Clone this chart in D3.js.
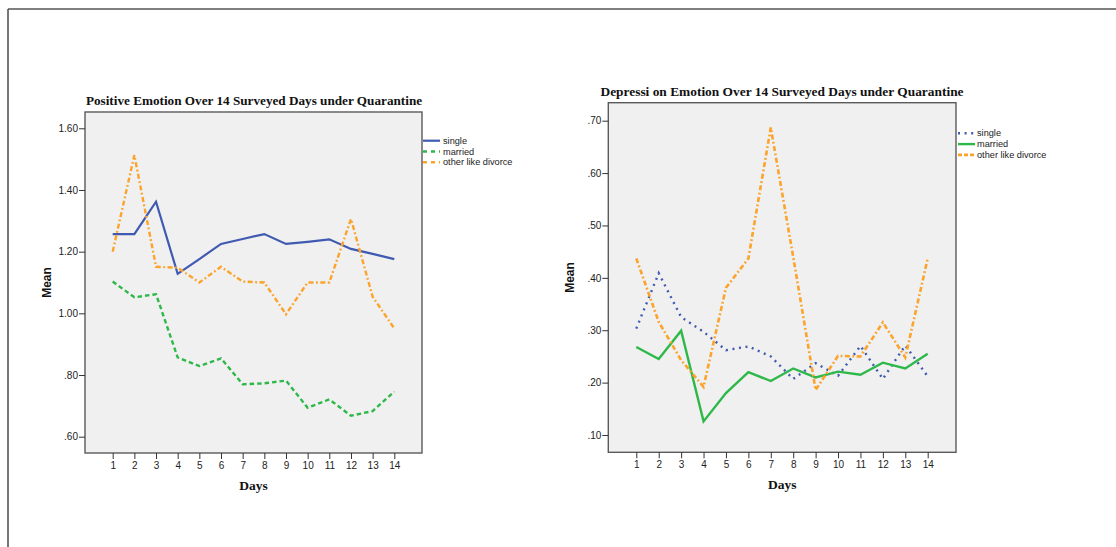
<!DOCTYPE html>
<html><head><meta charset="utf-8">
<script src="https://cdn.jsdelivr.net/npm/d3@7"></script>
<style>
html,body{margin:0;padding:0;background:#fff;}
svg{display:block;}
</style></head>
<body>
<svg id="chart" width="1116" height="547"></svg>
<script>
const days = [1,2,3,4,5,6,7,8,9,10,11,12,13,14];
const seriesNames = ["single","married","other like divorce"];

// Positive emotion
const posSingle  = [1.257,1.257,1.362,1.128,1.176,1.225,1.241,1.257,1.225,1.232,1.240,1.209,1.193,1.176];
const posMarried = [1.103,1.052,1.062,0.857,0.829,0.854,0.770,0.773,0.782,0.694,0.721,0.668,0.683,0.746];
const posOther   = [1.200,1.513,1.151,1.148,1.100,1.151,1.103,1.100,0.997,1.100,1.100,1.306,1.054,0.951];
const posTicks = [0.6,0.8,1.0,1.2,1.4,1.6];

// Depression emotion
const depSingle  = [0.303,0.409,0.325,0.297,0.262,0.269,0.250,0.207,0.237,0.213,0.270,0.207,0.271,0.212];
const depMarried = [0.268,0.245,0.299,0.126,0.180,0.220,0.203,0.227,0.210,0.221,0.215,0.238,0.227,0.255];
const depOther   = [0.437,0.316,0.243,0.192,0.381,0.437,0.687,0.440,0.186,0.251,0.250,0.315,0.248,0.437];
const depTicks = [0.1,0.2,0.3,0.4,0.5,0.6,0.7];

const BLUE = "#3f5ab0", GREEN = "#2fb84a", ORANGE = "#fca32c";
const SOLID = null, DASH = "4.5,3", DASHDOT = "5,2.5,1.8,2.5", DOT = "2,4.6";

const svg = d3.select("#chart");

// outer frame
svg.append("line").attr("x1",8).attr("x2",1116).attr("y1",9).attr("y2",9).attr("stroke","#555").attr("stroke-width",1.6);
svg.append("line").attr("x1",8).attr("x2",8).attr("y1",9).attr("y2",547).attr("stroke","#555").attr("stroke-width",1.6);

function panel(cfg){
  const g = svg.append("g");
  const x = d3.scaleLinear().domain([1,14]).range([cfg.x1, cfg.x14]);
  const y = d3.scaleLinear().domain([cfg.vA, cfg.vB]).range([cfg.yA, cfg.yB]);
  // background
  g.append("rect").attr("x",cfg.left).attr("y",cfg.top).attr("width",cfg.right-cfg.left).attr("height",cfg.bottom-cfg.top)
    .attr("fill","#f0f0f0").attr("stroke","#5a5a5a").attr("stroke-width",1.4);
  // y axis
  const yAxis = d3.axisLeft(y).tickValues(cfg.yticks).tickSize(6).tickPadding(1)
    .tickFormat(d => { const s = d.toFixed(2); return s.startsWith("0") ? s.slice(1) : s; });
  const ya = g.append("g").attr("transform",`translate(${cfg.left},0)`).call(yAxis);
  ya.select(".domain").remove();
  ya.selectAll(".tick line").attr("stroke","#333");
  ya.selectAll("text").attr("font-family","Liberation Sans, Arial, sans-serif").attr("font-size",10).attr("fill","#222");
  // x axis
  const xAxis = d3.axisBottom(x).tickValues(days).tickSize(6).tickPadding(3).tickFormat(d3.format("d"));
  const xa = g.append("g").attr("transform",`translate(0,${cfg.bottom})`).call(xAxis);
  xa.select(".domain").remove();
  xa.selectAll(".tick line").attr("stroke","#333");
  xa.selectAll("text").attr("font-family","Liberation Sans, Arial, sans-serif").attr("font-size",10).attr("fill","#222");
  // lines
  const line = d3.line().x((d,i)=>x(days[i])).y(d=>y(d));
  cfg.series.forEach(s=>{
    g.append("path").datum(s.values).attr("d",line).attr("fill","none")
      .attr("stroke",s.color).attr("stroke-width",s.w)
      .attr("stroke-dasharray",s.dash).attr("stroke-linecap","butt")
      .attr("stroke-linejoin","miter");
  });
  // title
  g.append("text").attr("x",cfg.titleX).attr("y",cfg.top-7).attr("text-anchor","middle")
    .attr("font-family","Liberation Serif, Times New Roman, serif").attr("font-weight","bold").attr("font-size",cfg.titleSize)
    .attr("fill","#111").text(cfg.title);
  // axis titles
  g.append("text").attr("x",(cfg.left+cfg.right)/2).attr("y",cfg.bottom+37).attr("text-anchor","middle")
    .attr("font-family","Liberation Serif, Times New Roman, serif").attr("font-weight","bold").attr("font-size",13.5)
    .attr("fill","#111").text("Days");
  g.append("text").attr("transform",`translate(${cfg.left-34},${(cfg.top+cfg.bottom)/2}) rotate(-90)`).attr("text-anchor","middle")
    .attr("font-family","Liberation Sans, Arial, sans-serif").attr("font-weight","bold").attr("font-size",12)
    .attr("fill","#111").text("Mean");
  // legend
  cfg.series.forEach((s,i)=>{
    const ly = cfg.legY + i*10.8;
    g.append("line").attr("x1",cfg.legX).attr("x2",cfg.legX+17).attr("y1",ly).attr("y2",ly)
      .attr("stroke",s.color).attr("stroke-width",s.w).attr("stroke-dasharray",s.legDash || s.dash);
    g.append("text").attr("x",cfg.legX+cfg.legTx).attr("y",ly+3).attr("font-family","Liberation Sans, Arial, sans-serif")
      .attr("font-size",9.2).attr("fill","#222").text(seriesNames[i]);
  });
}

panel({
  left:85, right:422, top:112, bottom:453,
  x1:112.7, x14:394.3, vA:1.6, vB:0.6, yA:128.3, yB:436.7,
  yticks: posTicks,
  title:"Positive Emotion Over 14 Surveyed Days under Quarantine", titleX:254, titleSize:13.2,
  legX:423, legY:140.7, legTx:20,
  series:[
    {values:posSingle, color:BLUE, w:2.2, dash:SOLID},
    {values:posMarried, color:GREEN, w:2.4, dash:DASH, legDash:"4,4"},
    {values:posOther, color:ORANGE, w:2.4, dash:DASHDOT, legDash:"4,4"}
  ]
});

panel({
  left:608.3, right:956, top:102.7, bottom:452.3,
  x1:636.3, x14:927.7, vA:0.7, vB:0.1, yA:120.7, yB:435,
  yticks: depTicks,
  title:"Depressi on Emotion Over 14 Surveyed Days under Quarantine", titleX:782, titleSize:13.4,
  legX:958, legY:133.3, legTx:19,
  series:[
    {values:depSingle, color:BLUE, w:2.4, dash:DOT},
    {values:depMarried, color:GREEN, w:2.4, dash:SOLID},
    {values:depOther, color:ORANGE, w:2.6, dash:DASHDOT, legDash:"4,2"}
  ]
});
</script>
</body></html>
